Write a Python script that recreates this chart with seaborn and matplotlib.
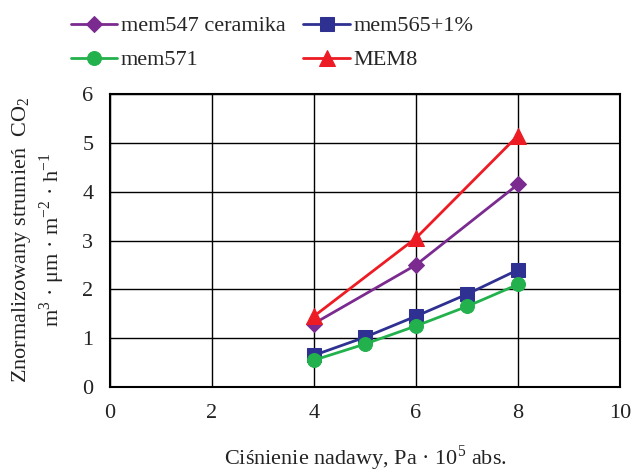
import matplotlib
matplotlib.use("Agg")
import matplotlib.pyplot as plt
import seaborn as sns
import pandas as pd

x_547 = [4, 6, 8]
y_547 = [1.30, 2.50, 4.15]
x_565 = [4, 5, 6, 7, 8]
y_565 = [0.65, 1.02, 1.45, 1.90, 2.40]
x_571 = [4, 5, 6, 7, 8]
y_571 = [0.55, 0.88, 1.25, 1.65, 2.10]
x_m8 = [4, 6, 8]
y_m8 = [1.45, 3.05, 5.15]
labels = ["mem547 ceramika", "mem565+1%", "mem571", "MEM8"]

sns.set_theme(style="white")
plt.rcParams['font.family'] = ['Liberation Serif', 'DejaVu Serif']
plt.rcParams['mathtext.fontset'] = 'custom'
plt.rcParams['mathtext.rm'] = 'Liberation Serif'

fig = plt.figure(figsize=(6.34, 4.75), dpi=100)
ax = fig.add_axes([110/634, 1 - 387/475, 510/634, 293/475])

series = [
    (x_547, y_547, labels[0], "#7B2A90", "D", 8),
    (x_565, y_565, labels[1], "#2E3192", "s", 10),
    (x_571, y_571, labels[2], "#22B14C", "o", 10),
    (x_m8, y_m8, labels[3], "#ED1C24", "^", 11),
]
for xs, ys, lab, col, mk, ms in series:
    df = pd.DataFrame({"x": xs, "y": ys})
    sns.lineplot(data=df, x="x", y="y", ax=ax, color=col, marker=mk,
                 markersize=ms, markeredgecolor=col, linewidth=2, label=lab)

ax.set_xlim(0, 10)
ax.set_ylim(0, 6)
ax.set_xticks([0, 2, 4, 6, 8, 10])
ax.set_yticks([0, 1, 2, 3, 4, 5, 6])
ax.grid(True, color="black", linewidth=1)
ax.set_axisbelow(True)
for s in ax.spines.values():
    s.set_color("black")
    s.set_linewidth(1.5)
ax.tick_params(axis="both", length=0, labelsize=16, pad=12, colors="#222222")
ax.set_xlabel("")
ax.set_ylabel("")

fig.text(365/634, 1 - 458/475, "Ciśnienie nadawy, Pa · 10$^5$ abs.", ha="center",
         va="center", fontsize=16, color="#222222")
fig.text(22/634, 1 - 240/475, "Znormalizowany strumień  CO$_2$", rotation=90,
         ha="center", va="center", fontsize=16, color="#222222")
fig.text(52/634, 1 - 240/475, "m$^3$ · μm · m$^{-2}$ · h$^{-1}$", rotation=90,
         ha="center", va="center", fontsize=16, color="#222222")

h, l = ax.get_legend_handles_labels()
order = [0, 2, 1, 3]
ax.get_legend().remove()
fig.legend([h[i] for i in order], [l[i] for i in order], ncol=2,
           loc="upper center", bbox_to_anchor=(272/634, 1 - 7/475),
           frameon=False, fontsize=16, handlelength=2.1, columnspacing=0.8,
           handletextpad=0.15, labelspacing=0.6, borderaxespad=0.0)

fig.savefig("out.png", dpi=100)
